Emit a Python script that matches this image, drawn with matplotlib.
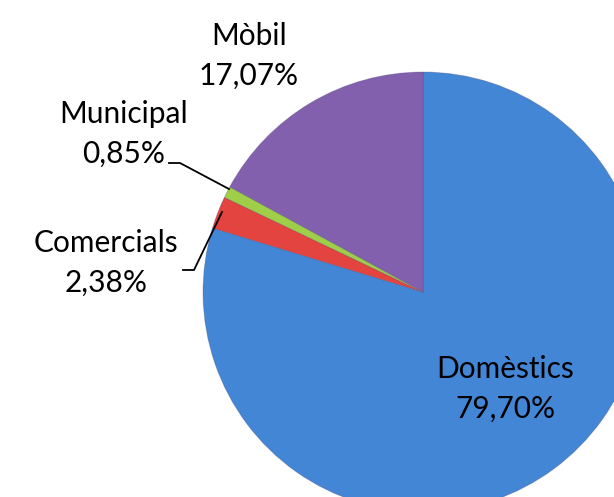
import matplotlib
matplotlib.use("Agg")
import matplotlib.pyplot as plt

categories = ["Domèstics", "Comercials", "Municipal", "Mòbil"]
values = [79.70, 2.38, 0.85, 17.07]
labels = ["79,70%", "2,38%", "0,85%", "17,07%"]
colors = ["#4486d6", "#e4443f", "#9fce48", "#8360ae"]

W, H = 614, 497
fig = plt.figure(figsize=(W / 100, H / 100), dpi=100)
ax = fig.add_axes([0, 0, 1, 1])

cx, cy, r = 423, H - 292, 220
wedges, _ = ax.pie(values, colors=colors, startangle=90, counterclock=False,
                   center=(cx, cy), radius=r, frame=True,
                   wedgeprops=dict(linewidth=0.6, edgecolor=(0.25, 0.25, 0.4, 0.3)))
ax.set_xlim(0, W)
ax.set_ylim(0, H)
ax.set_aspect("equal")
ax.axis("off")

font = dict(family="Lato", fontsize=21.5, color="black", ha="center", va="baseline")
# label positions (pixels, y from top)
pos = {
    "Domèstics": (505, 378),
    "Comercials": (106, 252),
    "Municipal": (124, 123),
    "Mòbil": (249, 45),
}
for cat, lab in zip(categories, labels):
    x, y = pos[cat]
    ax.text(x, H - y, cat, **font)
    ax.text(x, H - y - 40, lab, **font)

# leader lines
ax.plot([169, 180, 229], [H - 163, H - 163, H - 189], color="black", lw=1.3)
ax.plot([183, 194, 222], [H - 270, H - 270, H - 212], color="black", lw=1.3)

fig.savefig("out.png", dpi=100)
